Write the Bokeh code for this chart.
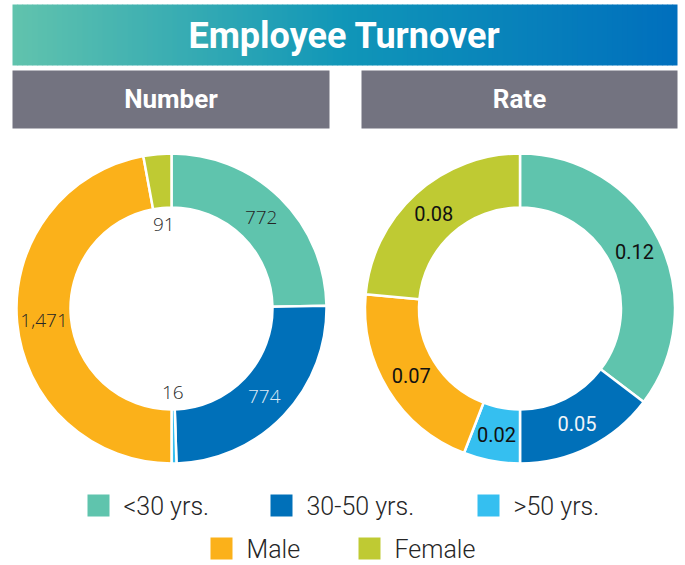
import math
from bokeh.plotting import figure
from bokeh.models import ColumnDataSource, Range1d
from bokeh.core.properties import value
from bokeh.embed import file_html
from bokeh.resources import INLINE

# ---- data ----
categories = ["<30 yrs.", "30-50 yrs.", ">50 yrs.", "Male", "Female"]
number_values = [772, 774, 16, 1471, 91]
rate_values = [0.12, 0.05, 0.02, 0.07, 0.08]
title_text = "Employee Turnover"
panel_titles = ["Number", "Rate"]

# ---- styles ----
colors = ["#5fc4ad", "#0070b9", "#35bff0", "#fbb11a", "#bfca33"]
number_label_colors = ["#262626", "#dce9f5", "#262626", "#262626", "#262626"]
rate_label_colors = ["#111111", "#f0f4f8", "#111111", "#111111", "#111111"]
gray = "#737380"

W, H = 685, 565
p = figure(width=W, height=H, output_backend="svg", toolbar_location=None,
           x_range=Range1d(0, W), y_range=Range1d(0, H), min_border=0,
           background_fill_color="white", border_fill_color="white")
p.axis.visible = False
p.grid.visible = False
p.outline_line_color = None

# ---- gradient banner ----
stops = [(0.0, (97, 195, 173)), (0.5, (16, 150, 184)), (1.0, (0, 111, 189))]
def grad(t):
    for (t0, c0), (t1, c1) in zip(stops[:-1], stops[1:]):
        if t <= t1:
            f = (t - t0) / (t1 - t0)
            return "#%02x%02x%02x" % tuple(int(round(a + (b - a) * f)) for a, b in zip(c0, c1))
    return "#%02x%02x%02x" % stops[-1][1]

nstrip = 133
bx0, bx1, by0, by1 = 12, 677, 500, 561
sw = (bx1 - bx0) / nstrip
lefts = [bx0 + i * sw for i in range(nstrip)]
rights = [min(l + sw + 0.6, bx1) for l in lefts]
gcols = [grad((i + 0.5) / nstrip) for i in range(nstrip)]
p.quad(left=lefts, right=rights, bottom=by0, top=by1, fill_color=gcols, line_color=None)
p.text(x=[344], y=[530], text=[title_text], text_color="white", text_font=value("Roboto"),
       text_font_style="bold", text_font_size="36px", text_align="center", text_baseline="middle")

# ---- panel headers ----
p.quad(left=[12, 361], right=[329, 677], bottom=437, top=495, fill_color=gray, line_color=None)
p.text(x=[170.5, 519], y=[466.5, 466.5], text=panel_titles, text_color="white", text_font=value("Roboto"),
       text_font_style="bold", text_font_size="26px", text_align="center", text_baseline="middle")

# ---- donuts ----
def donut(cx, cy, vals, labels, lab_colors, font, size):
    total = sum(vals)
    cum = 0
    starts, ends, lx, ly = [], [], [], []
    for v in vals:
        a0 = cum / total
        cum += v
        a1 = cum / total
        starts.append(math.pi / 2 - 2 * math.pi * a1)
        ends.append(math.pi / 2 - 2 * math.pi * a0)
        mid = (a0 + a1) / 2 * 2 * math.pi
        r = 128 if (a1 - a0) >= 0.05 else 84
        lx.append(cx + r * math.sin(mid))
        ly.append(cy + r * math.cos(mid))
    src = ColumnDataSource(dict(start=starts, end=ends, color=colors))
    p.annular_wedge(x=cx, y=cy, inner_radius=101, outer_radius=155, start_angle="start",
                    end_angle="end", fill_color="color", line_color="white", line_width=2.5,
                    source=src)
    p.text(x=lx, y=ly, text=labels, text_color=lab_colors, text_font=value(font),
           text_font_size=size, text_align="center", text_baseline="middle")

donut(171, 257, number_values, [f"{v:,}" for v in number_values], number_label_colors,
      "Open Sans Light, Open Sans", "19px")
donut(519.5, 257, rate_values, [f"{v:.2f}" for v in rate_values], rate_label_colors,
      "Roboto", "20px")

# ---- legend ----
leg_x = [87, 270, 477, 210, 358]
leg_y = [60, 60, 60, 17, 17]
p.rect(x=[x + 11 for x in leg_x], y=leg_y, width=22, height=22, fill_color=colors, line_color=None)
p.text(x=[x + 36 for x in leg_x], y=[y - 1 for y in leg_y], text=categories, text_color="#262626",
       text_font=value("Roboto Light, Roboto"), text_font_size="25px", text_align="left",
       text_baseline="middle")

open("out.html", "w").write(file_html(p, INLINE))
